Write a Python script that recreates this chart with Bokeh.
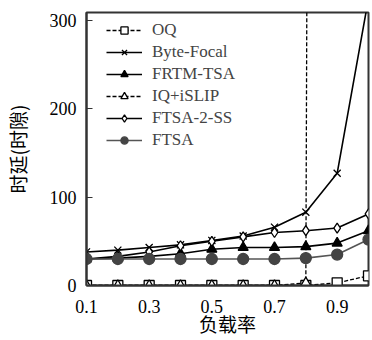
from bokeh.plotting import figure
from bokeh.models import Legend, LegendItem, FixedTicker, Range1d
from bokeh.embed import file_html
from bokeh.resources import INLINE

loads = [0.1, 0.2, 0.3, 0.4, 0.5, 0.6, 0.7, 0.8, 0.9, 1.0]
oq = [0, 0, 0, 0, 0, 0, 0, 0, 3, 11]
byte_focal = [38, 40, 43, 46, 51, 56, 66, 83, 127, 325]
frtm_tsa = [30, 31, 33, 36, 41, 43, 43, 44, 48, 62]
iq_loads = [0.1, 0.2, 0.3, 0.4, 0.5, 0.6, 0.7, 0.8, 0.9]
iq_islip = [0, 0, 0, 0, 0, 0, 0, 3, 10000]
ftsa_2_ss = [30, 33, 38, 45, 50, 55, 60, 62, 65, 81]
ftsa = [30, 30, 30, 30, 30, 30, 30, 31, 35, 52]
x_ticks = [0.1, 0.3, 0.5, 0.7, 0.9]
y_ticks = [0, 100, 200, 300]

FONT = "Liberation Serif"
CJK = "Noto Sans CJK SC"

p = figure(width=370, height=340, output_backend="svg", toolbar_location=None,
           x_range=Range1d(0.1, 1.0), y_range=Range1d(0, 309),
           min_border_left=85, min_border_right=2, min_border_top=12, min_border_bottom=55)

p.xgrid.visible = False
p.ygrid.visible = False
p.outline_line_color = "#333333"
p.outline_line_width = 2
p.background_fill_color = "white"
p.border_fill_color = "white"

series = [
    ("OQ", loads, oq, "square", "white", "black", "4 2", "black", 10),
    ("Byte-Focal", loads, byte_focal, "x", "black", "black", "solid", "black", 10),
    ("FRTM-TSA", loads, frtm_tsa, "triangle", "black", "black", "solid", "black", 10),
    ("IQ+iSLIP", iq_loads, iq_islip, "triangle", "white", "black", "4 2", "black", 10),
    ("FTSA-2-SS", loads, ftsa_2_ss, "diamond", "white", "black", "solid", "black", 10),
    ("FTSA", loads, ftsa, "circle", "#444444", "#444444", "solid", "#555555", 11),
]

items = []
for name, xs, ys, marker, fill, mline, dash, lcolor, size in series:
    lw = 1.3 if dash != "solid" else 1.6
    r1 = p.line(xs, ys, line_color=lcolor, line_width=lw, line_dash=dash)
    r2 = p.scatter(xs, ys, marker=marker, size=size, fill_color=fill,
                   line_color=mline, line_width=1.3)
    items.append(LegendItem(label=name, renderers=[r1, r2]))

legend = Legend(items=items, location=(20, 135), border_line_color=None,
                background_fill_alpha=0, label_text_font=FONT,
                label_text_font_size="17px", glyph_width=36, glyph_height=18,
                spacing=2, padding=0, margin=0, label_standoff=10,
                label_height=18)
p.add_layout(legend)

for ax in (p.xaxis[0], p.yaxis[0]):
    ax.axis_line_color = "#333333"
    ax.axis_line_width = 2
    ax.major_label_text_font = FONT
    ax.major_label_text_font_size = "18px"
    ax.major_label_text_color = "black"
    ax.minor_tick_line_color = None
    ax.axis_label_text_font = CJK
    ax.axis_label_text_font_size = "19px"
    ax.axis_label_text_font_style = "normal"
    ax.axis_label_text_color = "black"

p.xaxis.ticker = FixedTicker(ticks=x_ticks)
p.yaxis.ticker = FixedTicker(ticks=y_ticks)
p.xaxis.major_tick_line_color = None
p.xaxis.major_tick_in = 0
p.xaxis.major_tick_out = 0
p.yaxis.major_tick_in = 6
p.yaxis.major_tick_out = 0
p.yaxis.major_tick_line_color = "#333333"
p.yaxis.major_label_standoff = 10
p.xaxis.major_label_standoff = 14
p.xaxis.axis_label = "负载率"
p.yaxis.axis_label = "时延(时隙)"
p.xaxis.axis_label_standoff = -6
p.yaxis.axis_label_standoff = 16

open("out.html", "w").write(file_html(p, INLINE))
